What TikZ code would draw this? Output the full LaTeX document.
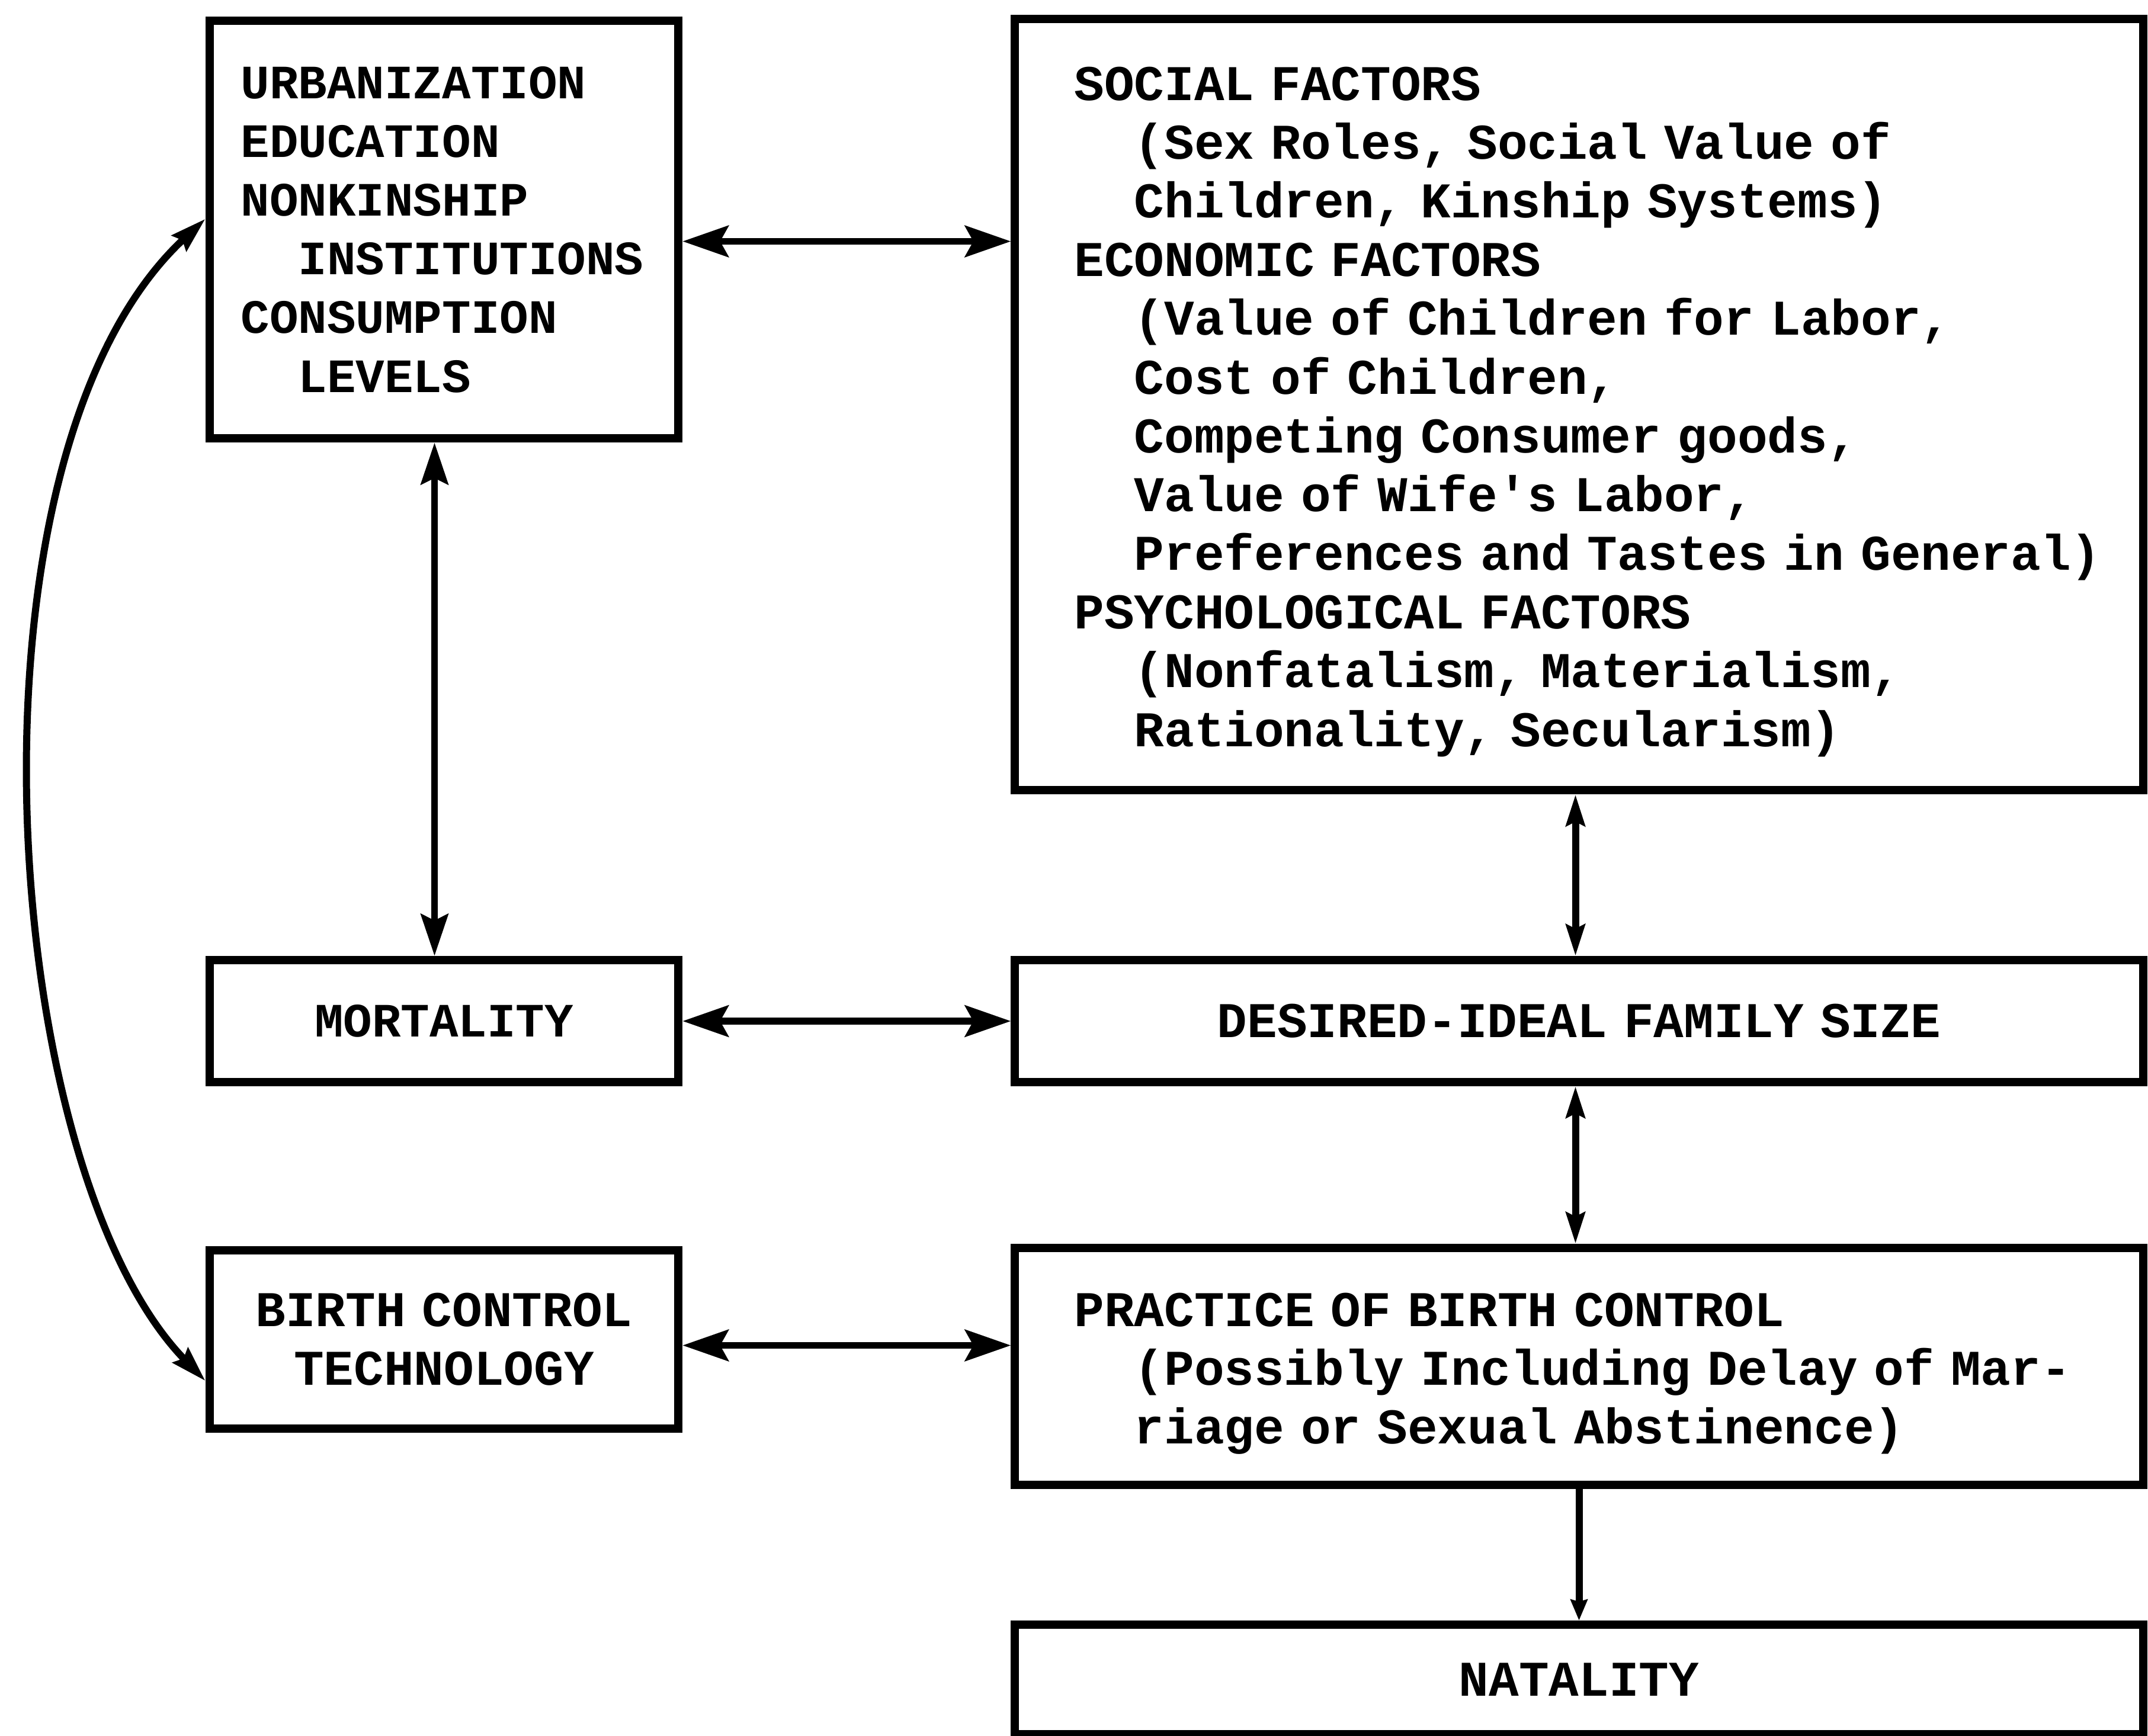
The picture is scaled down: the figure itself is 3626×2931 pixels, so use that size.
\documentclass[tikz,border=0pt]{standalone}
\usepackage{fontspec}
\setmonofont{Liberation Mono}
\usetikzlibrary{arrows.meta}
\newcommand\myl[1]{\mbox{#1}}
\newcommand\myi[1]{\mbox{\hspace*{1.2em}#1}}
\newcommand\mytop{\rule{0pt}{23pt}}
\tikzset{
  box/.style={draw, rectangle, line width=4pt, inner ysep=0pt,
    font=\fontsize{24pt}{28.2pt}\selectfont\ttfamily\bfseries},
  sbox/.style={font=\fontsize{23pt}{28.2pt}\selectfont\ttfamily\bfseries},
  lbox/.style={box, align=left, inner xsep=#1},
  cbox/.style={box, align=center, inner xsep=0pt},
  conn/.style={line width=3.4pt},
  HA/.tip={Stealth[length=22pt,width=15pt,inset=4pt]},
  VA/.tip={Stealth[length=20pt,width=13pt,inset=3pt]},
  VB/.tip={Stealth[length=15pt,width=9pt,inset=2pt]},
  VC/.tip={Stealth[length=10pt,width=8pt,inset=1pt]},
  CA/.tip={Stealth[length=17pt,width=10pt,inset=2pt]}
}
\begin{document}
\begin{tikzpicture}[x=0.01cm,y=-0.01cm]
\useasboundingbox[fill=white] (0,0) rectangle (3626,2931);

\node[lbox=0.53cm, sbox, text width=6.85cm, minimum height=7.05cm] (A) at (749.5,387.5)
 {\myl{URBANIZATION}\\ \myl{EDUCATION}\\ \myl{NONKINSHIP}\\ \myi{INSTITUTIONS}\\ \myl{CONSUMPTION}\\ \myi{LEVELS}};

\node[lbox=1.0cm, text width=17.03cm, minimum height=13.02cm] (B) at (2665.5,683)
 {\myl{\mytop SOCIAL FACTORS}\\
  \myi{(Sex Roles, Social Value of}\\
  \myi{Children, Kinship Systems)}\\
  \myl{ECONOMIC FACTORS}\\
  \myi{(Value of Children for Labor,}\\
  \myi{Cost of Children,}\\
  \myi{Competing Consumer goods,}\\
  \myi{Value of Wife's Labor,}\\
  \myi{Preferences and Tastes in General)}\\
  \myl{PSYCHOLOGICAL FACTORS}\\
  \myi{(Nonfatalism, Materialism,}\\
  \myi{Rationality, Secularism)}};

\node[cbox, sbox, text width=7.91cm, minimum height=2.06cm] (M) at (749.5,1724) {MORTALITY};
\node[cbox, text width=19.03cm, minimum height=2.06cm] (D) at (2665.5,1724) {\myl{DESIRED-IDEAL FAMILY SIZE}};
\node[cbox, text width=7.91cm, minimum height=3.01cm] (T) at (749.5,2261.5) {\myl{BIRTH CONTROL}\\ \myl{TECHNOLOGY}};
\node[lbox=1.0cm, text width=17.03cm, minimum height=4.0cm] (P) at (2665.5,2307)
 {\myl{\mytop PRACTICE OF BIRTH CONTROL}\\
  \myi{(Possibly Including Delay of Mar-}\\
  \myi{riage or Sexual Abstinence)}};
\node[cbox, text width=19.03cm, minimum height=1.85cm] (N) at (2665.5,2835.5) {NATALITY};

% horizontal connectors
\coordinate (ab) at ([yshift=-0.2cm]A.east);
\draw[conn, HA-HA] (ab) -- (ab -| B.west);
\draw[conn, HA-HA] (M.east) -- (D.west);
\coordinate (tp) at ([yshift=-0.1cm]T.east);
\draw[conn, HA-HA] (tp) -- (tp -| P.west);

% vertical connectors
\draw[conn, VA-VA] ([xshift=-0.16cm]A.south) -- ([xshift=-0.16cm]M.north);
\draw[conn, VB-VB] ([xshift=-0.06cm]B.south) -- ([xshift=-0.06cm]D.north);
\draw[conn, VB-VB] ([xshift=-0.06cm]D.south) -- ([xshift=-0.06cm]P.north);
\draw[conn, -VC] (P.south) -- (N.north);

% curved connector
\draw[conn, CA-CA] ([yshift=0.18cm]A.west) .. controls +(-430,400) and +(-350,-360) .. ([yshift=-0.7cm]T.west);
\end{tikzpicture}
\end{document}
